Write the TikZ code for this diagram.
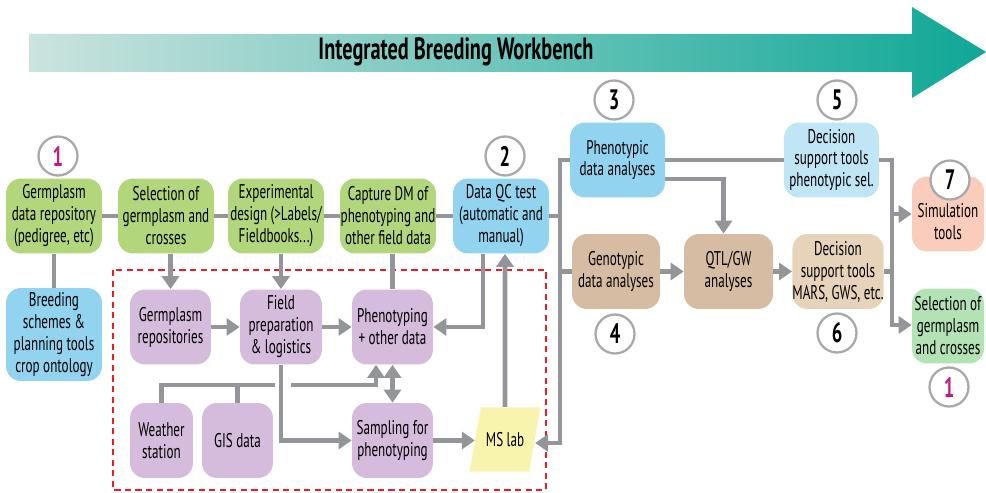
\documentclass[tikz,border=0pt]{standalone}
\usepackage{fontspec}
\setmainfont{PT Sans}[FakeStretch=0.66]
\usetikzlibrary{arrows.meta}
\usetikzlibrary{shapes.geometric}
\usepackage{xcolor}
\definecolor{bandlight}{HTML}{CBE3DF}
\definecolor{bandteal}{HTML}{0FA796}
\definecolor{boxgreen}{HTML}{B2D67C}
\definecolor{qcblue}{HTML}{92D3EF}
\definecolor{paleblue}{HTML}{C0E6F6}
\definecolor{lilac}{HTML}{D5BCDC}
\definecolor{tan}{HTML}{D6BCA2}
\definecolor{lighttan}{HTML}{E6D3BA}
\definecolor{salmon}{HTML}{F9CCBC}
\definecolor{mint}{HTML}{B3E2B5}
\definecolor{msyellow}{HTML}{F8F4AE}
\definecolor{linegray}{HTML}{939598}
\definecolor{ringgray}{HTML}{A7A9AC}
\definecolor{dashred}{HTML}{ED1C24}
\definecolor{numpink}{HTML}{C7197D}

\begin{document}
\begin{tikzpicture}[x=0.02cm, y=-0.02cm,
    box/.style = {rounded corners=0.3cm, align=center, inner sep=0pt,
                minimum width=#1, minimum height=1.5cm,
                font=\fontsize{11.3}{12.5}\selectfont},
    box/.default = 1.92cm,  % width of the green boxes
    num/.style = {circle, draw=ringgray, fill=white, line width=1.3pt,
                minimum size=0.78cm, inner sep=0pt,
                font=\bfseries\fontsize{16}{16}\selectfont},
    link/.style = {linegray, line width=2.8pt},
    arr/.style = {link, -{Triangle[width=0.34cm,length=0.26cm]}},
    arrboth/.style = {link, {Triangle[width=0.34cm,length=0.26cm]}-{Triangle[width=0.34cm,length=0.26cm]}}
                    ]
    \useasboundingbox (0,0) rectangle (986,493);
    % banner
    \shade[left color=bandlight, right color=bandteal] (29,34) -- (912,34) -- (912,7) -- (986,52)
        -- (912,98) -- (912,72) -- (29,72) -- cycle;
    \node[font=\bfseries\fontsize{17.5}{17.5}\selectfont] at (456,52) (title) {Integrated Breeding Workbench};
    % field part
    \draw[dashred, line width=1.2pt, dash pattern=on 3.5pt off 2.5pt] (113,270) rectangle (546,490);
    \foreach \x/\v/\t in {54/ga/{Germplasm\\data repository\\(pedigree, etc)},
                          166/gb/{Selection of\\germplasm and\\crosses},
                          276/gc/{Experimental\\design (>Labels/\\Fieldbooks...)},
                          388/gd/{Capture DM of\\phenotyping and\\other field data}}
        \node[box, fill=boxgreen] at (\x,216) (\v) {\t};
    \node[box, fill=qcblue] at (501,216) (qc) {Data QC test\\(automatic and\\manual)};
    \node[box, fill=qcblue, minimum height=1.86cm] at (54,334.5) (plan) {Breeding\\schemes \&\\planning tools\\crop ontology};
    \foreach \x/\y/\w/\v/\t in {170.5/327/1.62cm/rep/{Germplasm\\repositories},
                                281/327/1.64cm/field/{Field\\preparation\\\& logistics},
                                392.5/327/1.62cm/pheno/{Phenotyping\\+ other data},
                                161.5/440.5/1.26cm/wst/{Weather\\station},
                                237.5/440.5/1.42cm/gis/{GIS data},
                                392.5/440.5/1.62cm/samp/{Sampling for\\phenotyping}}
        \node[box=\w, fill=lilac] at (\x,\y) (\v) {\t};
    \node[trapezium, trapezium left angle=80, trapezium right angle=100,
          inner xsep=0.1cm, inner ysep=0.5cm, fill=msyellow,
          font=\fontsize{11.3}{12.5}\selectfont] at (505,439.5) (ms) {MS lab};
    % analysis part
    \node[box=1.9cm, fill=qcblue] at (617.5,160) (phen) {Phenotypic\\data analyses};
    \node[box=1.9cm, fill=paleblue] at (831.5,160) (dsa) {Decision\\support tools\\phenotypic sel.};
    \node[box=1.76cm, fill=tan] at (616,271.5) (geno) {Genotypic\\data analyses};
    \node[box=1.78cm, fill=tan] at (728.5,271.5) (qtl) {QTL/GW\\analyses};
    \node[box=1.8cm, fill=lighttan] at (838,271.5) (dsb) {Decision\\support tools\\MARS, GWS, etc.};
    \node[box=1.44cm, fill=salmon] at (948,214) (sim) {\mbox{}\\[4pt]Simulation\\tools};
    \node[box=1.44cm, fill=mint] at (948,326) (sel) {Selection of\\germplasm\\and crosses};
    % connectors
    \draw[link] (ga) -- (gb);
    \draw[link] (gb) -- (gc);
    \draw[link] (gc) -- (gd);
    \draw[link] (gd) -- (qc);
    \draw[link] (ga) -- (plan);
    \coordinate (busa) at (560,443);
    \draw[arr] (phen.west) -| (busa) -- (ms.east |- busa);
    \draw[link] (qc.east) -- (qc.east -| busa);
    \draw[link] (geno.west) -- (geno.west -| busa);
    \draw[link] (phen) -- (dsa);
    \coordinate (busb) at (892,325);
    \draw[arr] (dsa.east) -| (busb) -- (sel.west |- busb);
    \draw[arr] (busb |- sim) -- (sim.west);
    \draw[link] (dsb.east) -- (dsb.east -| busb);
    \draw[arr] ([yshift=-0.38cm]phen.east) -| ([xshift=-0.1cm]qtl.north);
    \draw[arr] (geno) -- (qtl);
    \draw[arr] (qtl) -- (dsb);
    \draw[arr] (gb.south -| rep) -- (rep);
    \draw[arr] (gc.south -| field) -- (field);
    \draw[link] (gd.south -| pheno) -- (pheno);
    \draw[arr] ([xshift=-0.36cm]qc.south) |- (pheno.east);
    \draw[arr] (ms) -- (ms |- qc.south);
    \draw[arr] (rep) -- (field);
    \draw[arr] (field) -- (pheno);
    \draw[arr] (field.south) |- (samp.west);
    \coordinate (wl) at (275,385);
    \coordinate (wr) at (291,385);
    \draw[link] (wst.north) |- (wl);
    \draw[link] (gis.north) -- (gis.north |- wl);
    \draw[arr] (wr) -| ([xshift=-0.33cm]pheno.south);
    \draw[arrboth] (pheno) -- (samp);
    \draw[arr] (samp) -- (ms.west |- samp);
    % step numbers
    \foreach \x/\y/\v/\t/\c in {58/156/na/1/numpink, 505/156/nb/2/black, 614/100/nc/3/black,
                                615/334/nd/4/black, 837/100/ne/5/black, 837/333/nf/6/black,
                                950/180/ng/7/black, 949/387/nh/1/numpink}
        \node[num, text=\c] at (\x,\y) (\v) {\t};
\end{tikzpicture}
\end{document}
